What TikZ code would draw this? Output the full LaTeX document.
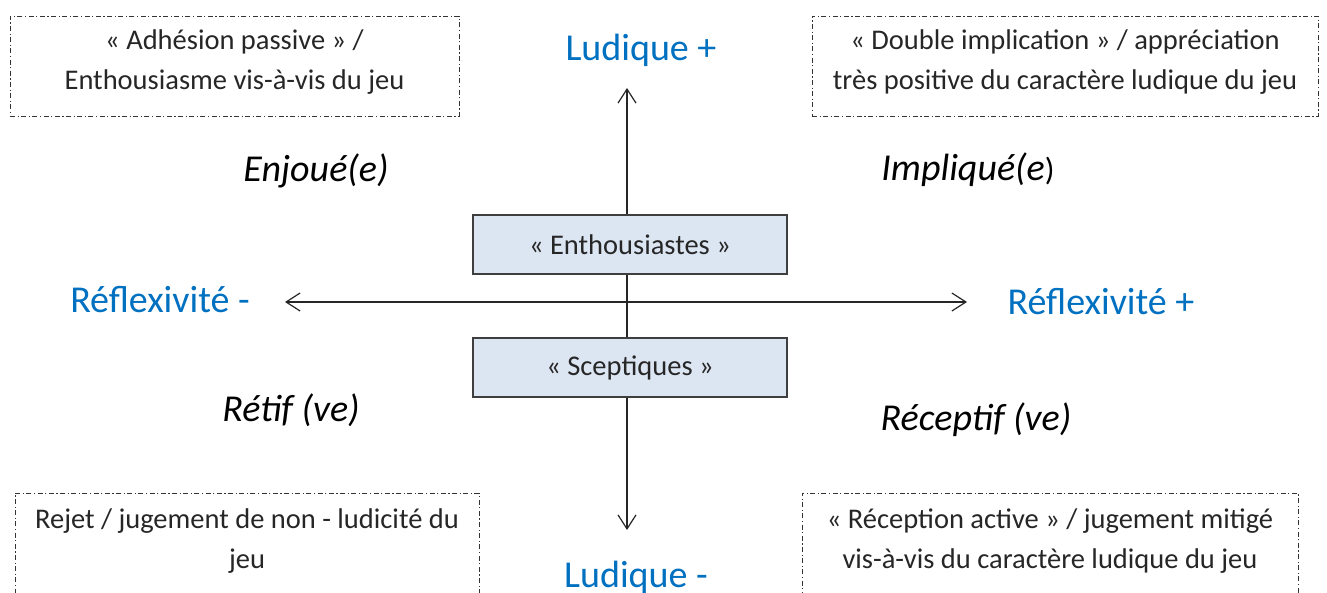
\documentclass[tikz,border=0pt]{standalone}
\usepackage{fontspec}
\setmainfont{Carlito}
\usetikzlibrary{arrows.meta}
\definecolor{axisblue}{HTML}{0070C0}
\definecolor{boxfill}{HTML}{DCE6F2}
\definecolor{boxline}{HTML}{3F3F3F}
\begin{document}
\begin{tikzpicture}[x=1pt,y=-1pt,
  notebox/.style={draw=black!80, line width=0.9pt, dash pattern=on 5pt off 2.5pt on 1.2pt off 2.5pt, inner sep=0pt},
  notetext/.style={align=center, font=\fontsize{28.5}{40}\selectfont, text=black!85},
  groupbox/.style={draw=boxline, line width=1.3pt, fill=boxfill, minimum width=314pt, minimum height=59pt, font=\fontsize{28.5}{32}\selectfont, text=black!85},
  axislabel/.style={text=axisblue, font=\fontsize{38}{42}\selectfont},
  quadlabel/.style={font=\fontsize{38}{42}\selectfont\itshape, text=black},
  axisline/.style={line width=1.2pt, draw=black!85, arrows={Straight Barb[length=14pt,width=18pt,line width=1.2pt]-Straight Barb[length=14pt,width=18pt,line width=1.2pt]}}
]
\useasboundingbox (0,0) rectangle (1327,592);
\clip (0,0) rectangle (1327,592);
% axes
\coordinate (top) at (627,88);
\coordinate (bot) at (627,530);
\coordinate (lft) at (285,302);
\coordinate (rgt) at (967,302);
\draw[axisline] (bot) -- (top);
\draw[axisline] (lft) -- (rgt);
% group boxes
\node[groupbox] (enth) at (630,244.5) {« Enthousiastes »};
\node[groupbox] (scep) at (630,367.5) {« Sceptiques »};
% axis labels
\node[axislabel] (lplus) at (641,50) {Ludique +};
\node[axislabel] (lminus) at (636,577) {Ludique -};
\node[axislabel] (rminus) at (160,300) {Réflexivité -};
\node[axislabel] (rplus) at (1101,302) {Réflexivité +};
% quadrant labels
\node[quadlabel] (enj) at (316,171) {Enjoué(e)};
\node[quadlabel] (imp) at (968,170) {Impliqué(e\upshape\fontsize{32}{36}\selectfont)};
\node[quadlabel] (ret) at (291,410) {Rétif (ve)};
\node[quadlabel] (rec) at (976,420) {Réceptif (ve)};
% note boxes
\node[notebox, minimum width=449pt, minimum height=100pt] (tl) at (234.5,66) {};
\node[notetext] (tlt) at (234.5,62.5) {« Adhésion passive » /\\Enthousiasme vis-à-vis du jeu};
\node[notebox, minimum width=506pt, minimum height=100pt] (tr) at (1065,66) {};
\node[notetext] (trt) at (1065,62.5) {« Double implication » / appréciation\\très positive du caractère ludique du jeu};
\node[notebox, minimum width=464pt, minimum height=130pt] (bl) at (247,558) {};
\node[notetext] (blt) at (247,541) {Rejet / jugement de non - ludicité du\\jeu};
\node[notebox, minimum width=496pt, minimum height=130pt] (br) at (1050,558) {};
\node[notetext] (brt) at (1050,541) {« Réception active » / jugement mitigé\\vis-à-vis du caractère ludique du jeu};
\end{tikzpicture}
\end{document}
